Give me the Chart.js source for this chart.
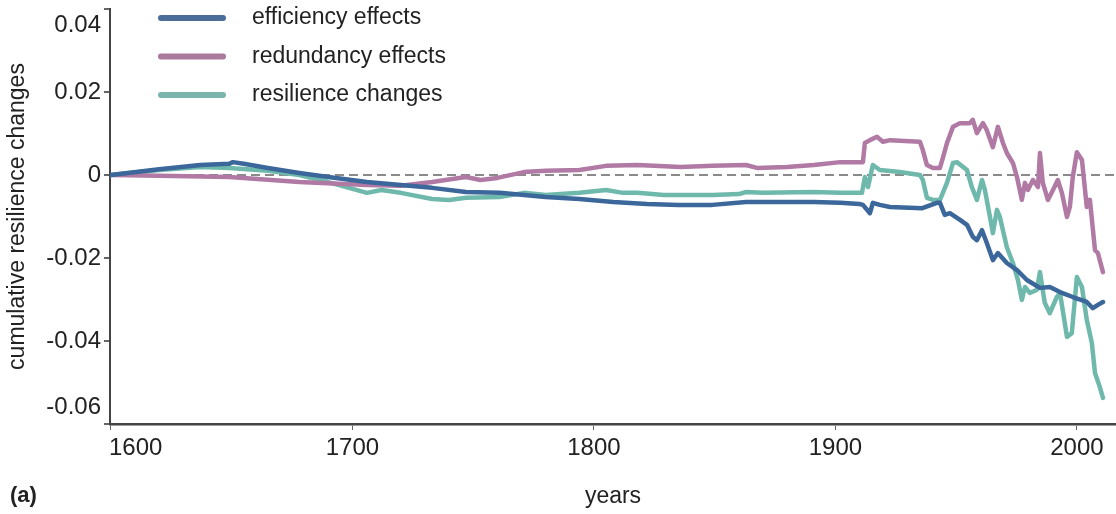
<!DOCTYPE html>
<html>
<head>
<meta charset="utf-8">
<script src="https://cdn.jsdelivr.net/npm/chart.js@4"></script>
<style>
  html, body { margin: 0; padding: 0; background: #fff; }
  #wrap { width: 1116px; height: 514px; position: relative; }
</style>
</head>
<body>
<div id="wrap"><canvas id="RESCHART"></canvas></div>
<script>
// series (year, cumulative change)
const effYears = [1600, 1620, 1637, 1649, 1650.5, 1655, 1665, 1678, 1690, 1706, 1720, 1733, 1747, 1761, 1780, 1794, 1808, 1822, 1835, 1849, 1863, 1875, 1891, 1902, 1910, 1911.4, 1914.3, 1915.5, 1918.4, 1922.6, 1936, 1942, 1943.3, 1945.3, 1947.4, 1951.6, 1954.5, 1956.9, 1958.6, 1960.7, 1962.7, 1965.2, 1967.3, 1971, 1975.2, 1979.3, 1984.7, 1988.8, 1993, 1998.3, 2004.1, 2006.6, 2008.7, 2010.8];
const effVals = [0, 0.0014, 0.0024, 0.0027, 0.0031, 0.0027, 0.0017, 0.0005, -0.0005, -0.0017, -0.0024, -0.0031, -0.0041, -0.0043, -0.0053, -0.0058, -0.0065, -0.0070, -0.0072, -0.0072, -0.0065, -0.0065, -0.0065, -0.0067, -0.0070, -0.0072, -0.0092, -0.0067, -0.0072, -0.0077, -0.0080, -0.0067, -0.0067, -0.0096, -0.0092, -0.0108, -0.0120, -0.0149, -0.0157, -0.0133, -0.0164, -0.0205, -0.0188, -0.0212, -0.0229, -0.0253, -0.0272, -0.0270, -0.0282, -0.0294, -0.0306, -0.0321, -0.0313, -0.0306];

const redYears = [1600, 1620, 1649, 1678, 1706, 1720, 1733, 1747, 1753, 1760, 1771, 1780, 1794, 1805, 1818, 1836, 1849, 1863, 1867.5, 1880, 1891, 1902, 1910, 1911.4, 1912.2, 1914.3, 1917.2, 1919.7, 1922.6, 1935, 1936.2, 1937.9, 1940.4, 1943.3, 1944.5, 1946.2, 1948.7, 1951.6, 1955.7, 1956.9, 1958.6, 1961.1, 1962.7, 1965.2, 1967.3, 1969.4, 1971, 1973.5, 1975.2, 1977.2, 1978.5, 1979.7, 1981.8, 1983.9, 1984.7, 1985.9, 1988, 1990.1, 1992.1, 1993.8, 1995.9, 1997.1, 1998.3, 2000, 2002.1, 2004.1, 2005.4, 2007.5, 2008.7, 2010.8];
const redVals = [0, -0.0002, -0.0005, -0.0017, -0.0024, -0.0026, -0.0017, -0.0005, -0.0012, -0.0007, 0.0007, 0.0010, 0.0012, 0.0022, 0.0024, 0.0019, 0.0022, 0.0024, 0.0017, 0.0019, 0.0024, 0.0031, 0.0031, 0.0031, 0.0077, 0.0084, 0.0092, 0.0080, 0.0084, 0.0080, 0.0060, 0.0024, 0.0017, 0.0017, 0.0041, 0.0077, 0.0116, 0.0125, 0.0125, 0.0133, 0.0101, 0.0125, 0.0108, 0.0067, 0.0116, 0.0077, 0.0053, 0.0029, -0.0005, -0.0060, -0.0019, -0.0036, -0.0012, -0.0029, 0.0053, -0.0019, -0.0060, -0.0036, -0.0012, -0.0043, -0.0101, -0.0077, -0.0005, 0.0055, 0.0036, -0.0077, -0.0060, -0.0181, -0.0188, -0.0234];

const resYears = [1600, 1620, 1637, 1649, 1665, 1678, 1690, 1706, 1712, 1720, 1733, 1740, 1747, 1761, 1771, 1780, 1794, 1805, 1812, 1818, 1829, 1849, 1860, 1863, 1870, 1891, 1902, 1911, 1912.2, 1913.5, 1915.5, 1918.4, 1926.7, 1935, 1936.2, 1937.9, 1940.4, 1943.3, 1944.5, 1946.2, 1948.7, 1950.3, 1954.5, 1956.5, 1958.6, 1960.7, 1961.9, 1964, 1965.2, 1966.9, 1968.1, 1971, 1973.5, 1975.6, 1977.2, 1978.5, 1980.5, 1983.4, 1984.7, 1986.7, 1988.8, 1991.7, 1993, 1995.9, 1997.9, 2000, 2002.1, 2004.1, 2006.2, 2007.5, 2009.5, 2010.8];
const resVals = [0, 0.0012, 0.0019, 0.0017, 0.0010, 0.0000, -0.0017, -0.0043, -0.0036, -0.0043, -0.0058, -0.0060, -0.0055, -0.0053, -0.0043, -0.0048, -0.0043, -0.0036, -0.0043, -0.0043, -0.0048, -0.0048, -0.0046, -0.0041, -0.0043, -0.0041, -0.0043, -0.0043, -0.0005, -0.0029, 0.0024, 0.0012, 0.0007, 0.0000, -0.0012, -0.0055, -0.0060, -0.0060, -0.0043, -0.0019, 0.0029, 0.0031, 0.0012, -0.0029, -0.0060, -0.0012, -0.0036, -0.0101, -0.0140, -0.0084, -0.0101, -0.0174, -0.0212, -0.0253, -0.0301, -0.0270, -0.0284, -0.0277, -0.0234, -0.0308, -0.0333, -0.0294, -0.0284, -0.0390, -0.0381, -0.0246, -0.0270, -0.0349, -0.0405, -0.0477, -0.0511, -0.0537];

const seriesNames = ['efficiency effects', 'redundancy effects', 'resilience changes'];
const xTicks = [1600, 1700, 1800, 1900, 2000];
const yTicks = [-0.06, -0.04, -0.02, 0, 0.02, 0.04];

const FONT = '"Liberation Sans", Arial, sans-serif';
const TEXT = '#222';

function pts(xs, ys) {
    return xs.map((x, i) => ({ x: x, y: ys[i] }));
}

function fmt(v) {
    return v === 0 ? '0' : v.toFixed(2);
}

// legend sits inside the plot, top left
const insideLegend = {
    id: 'insideLegend',
    afterDraw(chart) {
        const ctx = chart.ctx;
        chart.data.datasets.forEach((ds, i) => {
            const y = 18 + i * 38.5;
            ctx.save();
            ctx.strokeStyle = ds.legendColor;
            ctx.lineWidth = 6;
            ctx.lineCap = 'round';
            ctx.beginPath();
            ctx.moveTo(161, y);
            ctx.lineTo(223, y);
            ctx.stroke();
            ctx.fillStyle = TEXT;
            ctx.font = '23px ' + FONT;
            ctx.textBaseline = 'middle';
            ctx.fillText(ds.label, 252, y);
            ctx.restore();
        });
    }
};

// end labels nudged inward like the original, plus the panel tag
const edgeLabels = {
    id: 'edgeLabels',
    afterDraw(chart) {
        const ctx = chart.ctx;
        const xs = chart.scales.x, ys = chart.scales.y;
        ctx.save();
        ctx.fillStyle = TEXT;
        ctx.font = '24px ' + FONT;
        ctx.textBaseline = 'middle';
        ctx.textAlign = 'right';
        ctx.fillText(fmt(yTicks[yTicks.length - 1]), ys.right - 9, ys.getPixelForValue(yTicks[yTicks.length - 1]) + 16);
        ctx.fillText(fmt(yTicks[0]), ys.right - 9, ys.getPixelForValue(yTicks[0]) - 17);
        ctx.textAlign = 'left';
        ctx.fillText(String(xTicks[0]), xs.getPixelForValue(xTicks[0]) - 2, xs.top + 24);
        ctx.font = 'bold 22px ' + FONT;
        ctx.fillText('(a)', 10, 496);
        ctx.restore();
    }
};

let ctx = document.getElementById('RESCHART');

let res_chart = new Chart(ctx, {
    type: 'line',
    data: {
        datasets: [{
            label: seriesNames[0],
            data: pts(effYears, effVals),
            borderColor: '#3b679b',
            legendColor: '#4a6e97',
            borderWidth: 4.5
        }, {
            label: seriesNames[1],
            data: pts(redYears, redVals),
            borderColor: '#b07aa5',
            legendColor: '#aa7a9e',
            borderWidth: 4.5
        }, {
            label: seriesNames[2],
            data: pts(resYears, resVals),
            borderColor: '#6fb9ac',
            legendColor: '#7cb5ab',
            borderWidth: 4.5
        }]
    },
    options: {
        responsive: true,
        maintainAspectRatio: false,
        animation: false,
        layout: { padding: { top: 9, right: 0, bottom: 0, left: 0 } },
        elements: {
            point: { radius: 0 },
            line: { tension: 0, borderJoinStyle: 'round', borderCapStyle: 'round' }
        },
        scales: {
            x: {
                type: 'linear',
                min: 1599.6,
                max: 2016.2,
                afterBuildTicks: s => { s.ticks = xTicks.map(v => ({ value: v })); },
                afterFit: s => { s.height = 90; s.paddingLeft = 0; s.paddingRight = 0; },
                ticks: {
                    color: TEXT,
                    font: { family: FONT, size: 24 },
                    padding: 4,
                    maxRotation: 0,
                    callback: v => v === xTicks[0] ? '' : String(v)
                },
                grid: { drawOnChartArea: false, tickLength: 6, tickColor: '#666' },
                border: { color: '#444', width: 2.5 },
                title: {
                    display: true,
                    text: 'years',
                    color: TEXT,
                    font: { family: FONT, size: 23 },
                    padding: { top: 0, bottom: 4 }
                }
            },
            y: {
                min: -0.06,
                max: 0.04,
                afterBuildTicks: s => { s.ticks = yTicks.map(v => ({ value: v })); },
                afterFit: s => { s.width = 110; s.paddingTop = 0; s.paddingBottom = 0; },
                ticks: {
                    color: TEXT,
                    font: { family: FONT, size: 24 },
                    padding: 3,
                    callback: v => (v === yTicks[0] || v === yTicks[yTicks.length - 1]) ? '' : fmt(v)
                },
                grid: {
                    color: c => (c.tick && c.tick.value === 0) ? '#8a8a8a' : 'rgba(0,0,0,0)',
                    lineWidth: 2,
                    tickLength: 6,
                    tickColor: '#666'
                },
                border: { color: '#444', width: 2, dash: [9, 5] },
                title: {
                    display: true,
                    text: 'cumulative resilience changes',
                    color: TEXT,
                    font: { family: FONT, size: 23 },
                    padding: { top: 4, bottom: 0 }
                }
            }
        },
        plugins: {
            legend: { display: false },
            tooltip: { enabled: false }
        }
    },
    plugins: [insideLegend, edgeLabels]
});
</script>
</body>
</html>
